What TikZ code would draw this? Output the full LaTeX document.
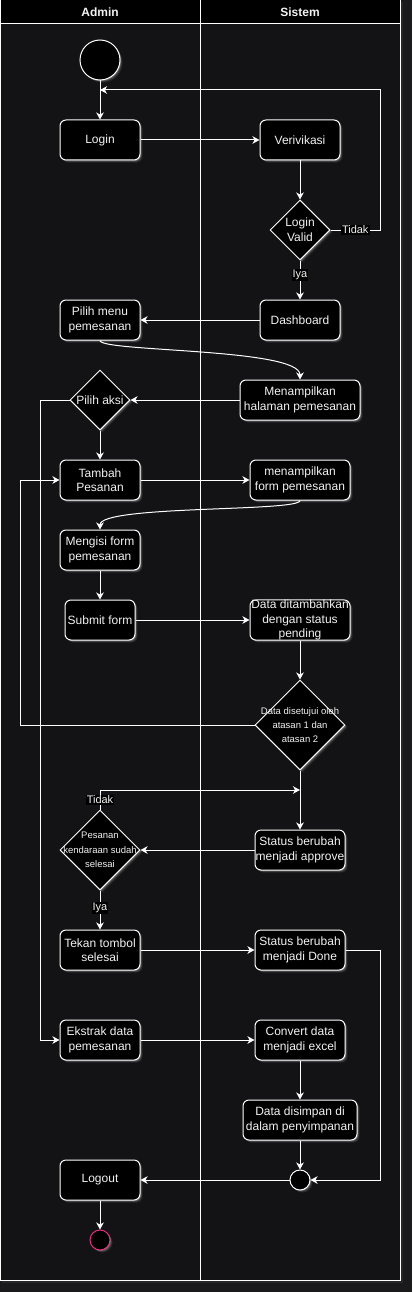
\documentclass[tikz,border=0pt]{standalone}
\usepackage{fontspec}
\setmainfont{Liberation Sans}
\usetikzlibrary{shapes.geometric,arrows.meta,shadows}
\definecolor{outerbg}{RGB}{26,26,28}
\definecolor{innerbg}{RGB}{19,19,21}
\definecolor{endpink}{RGB}{228,48,128}
\definecolor{txt}{RGB}{242,242,242}
\begin{document}
\begin{tikzpicture}[x=1pt,y=-1pt,
  glow/.style={
    drop shadow={shadow xshift=2.6pt,shadow yshift=-2.6pt,fill=white,opacity=0.07},
    drop shadow={shadow xshift=1.8pt,shadow yshift=-1.8pt,fill=white,opacity=0.12},
    drop shadow={shadow xshift=1pt,shadow yshift=-1pt,fill=white,opacity=0.22}},
  act/.style={draw=white, fill=black, rounded corners=6pt, text=txt, line width=1pt,
    minimum width=80pt, minimum height=40pt, align=center, inner sep=0pt,
    font=\fontsize{12}{14.5}\selectfont, glow},
  dec/.style={diamond, draw=white, fill=black, line width=1pt, inner sep=0pt, glow},
  dtxt/.style={text=txt, align=center, inner sep=0pt, font=\fontsize{12}{15}\selectfont},
  dsmall/.style={text=txt, align=center, inner sep=0pt, font=\fontsize{9.5}{14.3}\selectfont},
  dot/.style={circle, draw=white, fill=black, line width=1pt, inner sep=0pt, glow},
  arr/.style={draw=white, line width=1pt, -{Stealth[length=7pt,width=7.5pt,inset=2pt]}},
  lbl/.style={fill=black, text=txt, inner sep=1pt, font=\fontsize{11}{12}\selectfont},
  lane/.style={draw=white, line width=1pt},
  hdr/.style={text=txt, font=\bfseries\fontsize{12}{14}\selectfont}
]
\useasboundingbox (0,0) rectangle (412,1292);
\fill[outerbg] (0,0) rectangle (412,1292);
% frame glow
\fill[white,opacity=0.06] (2,2) rectangle (403,1283);
\fill[innerbg] (0,0) rectangle (400,1280);
\fill[black] (0,0) rectangle (400,24);
\draw[lane] (0,0) rectangle (400,1280);
\draw[lane] (0,24) -- (400,24);
\draw[lane] (200,0) -- (200,1280);
\node[hdr] (hadmin) at (100,12) {Admin};
\node[hdr] (hsistem) at (300,12) {Sistem};

% nodes
\node[dot, minimum size=40pt] (start) at (100,60) {};
\node[act] (login) at (100,140) {Login};
\node[act] (verif) at (300,140) {Verivikasi};
\node[dec, minimum width=60pt, minimum height=60pt, label={[dtxt]center:Login\\Valid}] (valid) at (300,230) {};
\node[act] (dash) at (300,320) {Dashboard};
\node[act] (pilih) at (100,320) {Pilih menu\\pemesanan};
\node[act, minimum width=120pt] (menamp) at (300,400) {Menampilkan\\halaman pemesanan};
\node[dec, minimum width=60pt, minimum height=60pt, label={[dtxt]center:Pilih aksi}] (aksi) at (100,400) {};
\node[act] (tambah) at (100,480) {Tambah\\Pesanan};
\node[act, minimum width=100pt] (form) at (300,480) {menampilkan\\form pemesanan};
\node[act] (mengisi) at (100,550) {Mengisi form\\pemesanan};
\node[act, minimum width=70pt] (submit) at (100,620) {Submit form};
\node[act, minimum width=100pt] (datatam) at (300,620) {Data ditambahkan\\dengan status\\pending};
\node[dec, minimum width=90pt, minimum height=90pt, label={[dsmall]center:Data disetujui oleh\\atasan 1 dan\\atasan 2}] (setuju) at (300,725) {};
\node[act, minimum width=90pt] (approve) at (300,850) {Status berubah\\menjadi approve};
\node[dec, minimum width=80pt, minimum height=80pt, label={[dsmall]center:Pesanan\\kendaraan sudah\\selesai}] (pesanan) at (100,850) {};
\node[act] (tekan) at (100,950) {Tekan tombol\\selesai};
\node[act, minimum width=90pt] (done) at (300,950) {Status berubah\\menjadi Done};
\node[act] (ekstrak) at (100,1040) {Ekstrak data\\pemesanan};
\node[act, minimum width=90pt] (convert) at (300,1040) {Convert data\\menjadi excel};
\node[act, minimum width=114pt] (simpan) at (300,1120) {Data disimpan di\\dalam penyimpanan};
\node[dot, minimum size=20pt] (merge) at (300,1180) {};
\node[act] (logout) at (100,1180) {Logout};
\node[circle, draw=endpink, fill=black, line width=1pt, inner sep=0pt, minimum size=20pt, glow] (end) at (100,1240) {};

% waypoints
\coordinate (j0) at (380,230);
\coordinate (j1) at (100,90);
\coordinate (j2) at (100,790);
\coordinate (j3) at (300,790);
\coordinate (j4) at (40,400);
\coordinate (j5) at (20,725);
\coordinate (j6) at (380,950);

% edges
\draw[arr] (start) -- (login);
\draw[arr] (login) -- (verif);
\draw[arr] (verif) -- (valid);
\draw[arr] (valid.east) -- node[lbl]{Tidak} (j0) |- (j1);
\draw[arr] (valid) -- node[lbl, pos=0.38]{Iya} (dash);
\draw[arr] (dash) -- (pilih);
\draw[arr] (pilih.south) .. controls (100,352) and (300,348) .. (menamp.north);
\draw[arr] (menamp) -- (aksi);
\draw[arr] (aksi.west) -- (j4) |- (ekstrak.west);
\draw[arr] (aksi) -- (tambah);
\draw[arr] (tambah) -- (form);
\draw[arr] (form.south) .. controls (300,512) and (100,505) .. (mengisi.north);
\draw[arr] (mengisi) -- (submit);
\draw[arr] (submit) -- (datatam);
\draw[arr] (datatam) -- (setuju);
\draw[arr] (setuju.west) -- (j5) |- (tambah.west);
\draw[arr] (setuju) -- (approve);
\draw[arr] (approve) -- (pesanan);
\draw[arr] (pesanan.north) -- node[lbl]{Tidak} (j2) -- (j3);
\draw[arr] (pesanan) -- node[lbl, pos=0.45]{Iya} (tekan);
\draw[arr] (tekan) -- (done);
\draw[arr] (done.east) -- (j6) |- (merge.east);
\draw[arr] (ekstrak) -- (convert);
\draw[arr] (convert) -- (simpan);
\draw[arr] (simpan) -- (merge);
\draw[arr] (merge) -- (logout);
\draw[arr] (logout) -- (end);
\end{tikzpicture}
\end{document}
